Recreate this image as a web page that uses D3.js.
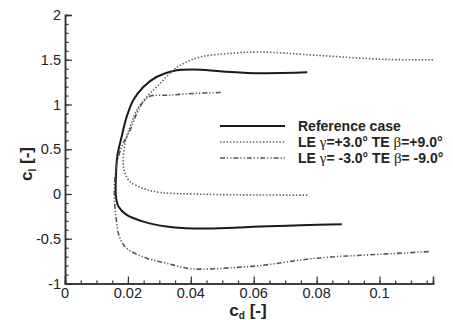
<!DOCTYPE html>
<head>
  <meta charset="utf-8">
  <script src="https://cdn.jsdelivr.net/npm/d3@7"></script>
  <style>
    body { margin: 0; background: #fff; }
    text { font-family: Arial, "Liberation Sans", sans-serif; fill: #222; }
  </style>
</head>
<body>
  <div id="chartDiv"></div>
  <script>
    // Reference case
    var refCd = [0.077, 0.062, 0.050, 0.0408, 0.0344, 0.0292, 0.0249, 0.0217, 0.0196, 0.018, 0.0166, 0.0162, 0.0162, 0.017, 0.0196, 0.0249, 0.0323, 0.0408, 0.0514, 0.062, 0.075, 0.088];
    var refCl = [1.36, 1.35, 1.37, 1.39, 1.375, 1.31, 1.196, 1.048, 0.862, 0.639, 0.416, 0.193, -0.03, -0.14, -0.234, -0.309, -0.364, -0.386, -0.379, -0.364, -0.35, -0.338];
    // LE +3, TE +9
    var plusCd = [0.117, 0.101, 0.080, 0.062, 0.0514, 0.0429, 0.0376, 0.0344, 0.0302, 0.026, 0.0228, 0.0207, 0.0191, 0.0185, 0.0191, 0.0207, 0.0249, 0.0302, 0.0408, 0.062, 0.0773];
    var plusCl = [1.50, 1.505, 1.55, 1.586, 1.568, 1.53, 1.457, 1.383, 1.234, 1.085, 0.936, 0.75, 0.565, 0.342, 0.23, 0.137, 0.063, 0.018, 0.0, -0.011, -0.012];
    // LE -3, TE -9
    var minusCd = [0.0495, 0.0408, 0.0334, 0.027, 0.0249, 0.0228, 0.0207, 0.0185, 0.017, 0.0159, 0.0157, 0.0162, 0.0173, 0.0196, 0.026, 0.0323, 0.0387, 0.044, 0.0535, 0.062, 0.080, 0.101, 0.116];
    var minusCl = [1.134, 1.123, 1.104, 1.092, 1.03, 0.9, 0.713, 0.565, 0.416, 0.193, -0.03, -0.253, -0.476, -0.606, -0.717, -0.773, -0.829, -0.84, -0.822, -0.80, -0.717, -0.672, -0.643];

    var xTicks = [0, 0.02, 0.04, 0.06, 0.08, 0.1];
    var yTicks = [-1, -0.5, 0, 0.5, 1, 1.5, 2];

    var width = 453, height = 320;
    var x = d3.scaleLinear().domain([0, 0.117]).range([65, 433]);
    var y = d3.scaleLinear().domain([-1, 2]).range([283.5, 15]);

    var svg = d3.select("#chartDiv").append("svg")
        .attr("width", width)
        .attr("height", height);

    // axes, ticks pointing inward
    var xAxisMinor = d3.axisTop(x).tickValues(d3.range(0, 0.1151, 0.005)).tickSize(3).tickFormat("");
    var xAxis = d3.axisTop(x).tickValues(xTicks).tickSize(7).tickFormat("");
    var yAxisMinor = d3.axisRight(y).tickValues(d3.range(-1, 2.001, 0.1)).tickSize(3.5).tickFormat("");
    var yAxis = d3.axisRight(y).tickValues(yTicks).tickSize(7).tickFormat("");

    svg.append("g").attr("transform", "translate(0," + y(-1) + ")").call(xAxisMinor);
    svg.append("g").attr("transform", "translate(0," + y(-1) + ")").call(xAxis);
    svg.append("g").attr("transform", "translate(" + x(0) + ",0)").call(yAxisMinor);
    svg.append("g").attr("transform", "translate(" + x(0) + ",0)").call(yAxis);
    svg.selectAll(".domain").attr("stroke", "#333").attr("stroke-width", 1.5);
    svg.selectAll(".tick line").attr("stroke", "#333").attr("stroke-width", 1.2);

    // tick labels
    svg.selectAll(".xlab").data(xTicks).enter().append("text")
        .attr("x", function(d) { return x(d); })
        .attr("y", y(-1) + 14.5)
        .attr("text-anchor", "middle")
        .style("font-size", "14.5px")
        .text(function(d) { return d; });
    svg.selectAll(".ylab").data(yTicks).enter().append("text")
        .attr("x", x(0) - 4)
        .attr("y", function(d) { return y(d) + 5; })
        .attr("text-anchor", "end")
        .style("font-size", "14.5px")
        .text(function(d) { return d; });

    // axis titles
    var xt = svg.append("text")
        .attr("x", 248).attr("y", 316)
        .attr("text-anchor", "middle")
        .style("font-size", "17px").style("font-weight", "bold");
    xt.append("tspan").text("c");
    xt.append("tspan").attr("dy", 3).style("font-size", "10px").text("d");
    xt.append("tspan").attr("dy", -3).text(" [-]");

    var yt = svg.append("text")
        .attr("transform", "translate(32,164) rotate(-90)")
        .attr("text-anchor", "middle")
        .style("font-size", "17px").style("font-weight", "bold");
    yt.append("tspan").text("c");
    yt.append("tspan").attr("dy", 4).style("font-size", "10px").text("l");
    yt.append("tspan").attr("dy", -4).text(" [-]");

    var line = d3.line()
        .x(function(d) { return x(d[0]); })
        .y(function(d) { return y(d[1]); })
        .curve(d3.curveCatmullRom);

    var series = [
      { cd: refCd, cl: refCl, color: "#1a1a1a", w: 2, dash: null },
      { cd: plusCd, cl: plusCl, color: "#666", w: 1.6, dash: "1.5,1.8" },
      { cd: minusCd, cl: minusCl, color: "#555", w: 1.6, dash: "5,2,1.2,2,1.2,2" }
    ];

    series.forEach(function(s) {
      svg.append("path")
          .datum(d3.zip(s.cd, s.cl))
          .attr("d", line)
          .attr("fill", "none")
          .attr("stroke", s.color)
          .attr("stroke-width", s.w)
          .attr("stroke-dasharray", s.dash);
    });

    // legend
    var legY = [126, 142, 158];
    series.forEach(function(s, i) {
      svg.append("line")
          .attr("x1", 220).attr("x2", 285)
          .attr("y1", legY[i]).attr("y2", legY[i])
          .attr("stroke", s.color)
          .attr("stroke-width", s.w)
          .attr("stroke-dasharray", s.dash);
    });

    function legText(i, parts) {
      var t = svg.append("text")
          .attr("x", 298).attr("y", legY[i] + 5)
          .style("font-size", "14px").style("font-weight", "bold");
      parts.forEach(function(p) {
        var sp = t.append("tspan").text(p[0]);
        if (p[1]) sp.style("font-family", "'Liberation Serif', 'DejaVu Serif', serif").style("font-weight", "normal").style("font-size", "15px");
      });
    }
    legText(0, [["Reference case"]]);
    legText(1, [["LE "], ["\u03b3", 1], ["=+3.0\u00b0  TE "], ["\u03b2", 1], ["=+9.0\u00b0"]]);
    legText(2, [["LE "], ["\u03b3", 1], ["= -3.0\u00b0  TE "], ["\u03b2", 1], ["= -9.0\u00b0"]]);
  </script>
</body>
